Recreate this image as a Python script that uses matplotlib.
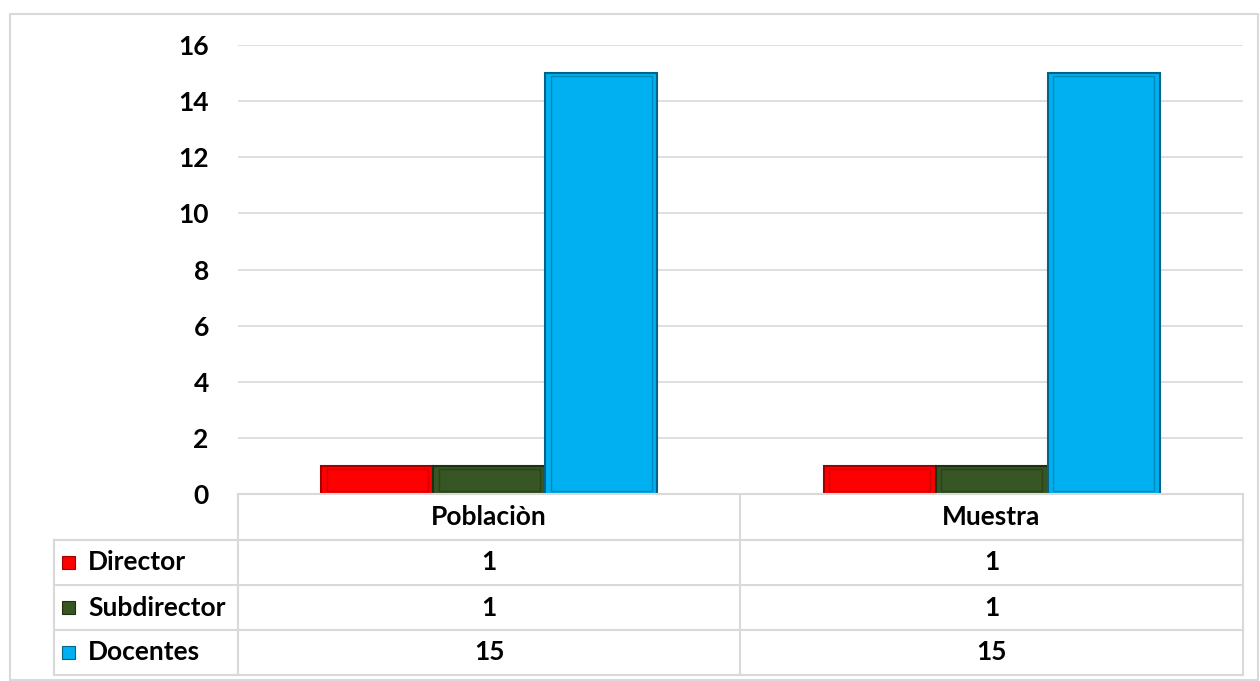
import numpy as np
import matplotlib.pyplot as plt
from matplotlib.patches import Rectangle
from matplotlib.lines import Line2D

plt.rcParams['font.family'] = ['Lato', 'DejaVu Sans']
plt.rcParams['font.weight'] = 'bold'

categories = ['Poblaciòn', 'Muestra']
series = ['Director', 'Subdirector', 'Docentes']
values = {
    'Director': [1, 1],
    'Subdirector': [1, 1],
    'Docentes': [15, 15],
}
yticks = [0, 2, 4, 6, 8, 10, 12, 14, 16]

face = {'Director': '#FF0000', 'Subdirector': '#375623', 'Docentes': '#00B0F0'}
edge = {'Director': '#A00000', 'Subdirector': '#1E3012', 'Docentes': '#00648A'}

W, H = 1260, 681
fig = plt.figure(figsize=(W / 100, H / 100), dpi=100)
grid_c = '#D9D9D9'


def fx(px):
    return px / W


def fy(py):
    return 1 - py / H


# outer frame
fig.patches.append(Rectangle((fx(10), fy(680)), fx(1258) - fx(10), fy(14) - fy(680),
                             transform=fig.transFigure, fill=False, ec=grid_c, lw=1.5))

left, right, top, bottom = 238, 1243, 45, 494
ax = fig.add_axes([fx(left), fy(bottom), fx(right) - fx(left), fy(top) - fy(bottom)])
ax.set_xlim(-0.5, 1.5)
ax.set_ylim(0, 16)
ax.set_yticks(yticks)
ax.set_xticks([])
ax.yaxis.grid(True, color=grid_c, lw=1.2)
ax.set_axisbelow(True)
for s in ax.spines.values():
    s.set_visible(False)
fs = 19
ax.tick_params(axis='y', length=0, pad=21, labelsize=fs)

x = np.arange(len(categories))
bw = 0.223
for i, name in enumerate(series):
    pos = x + (i - 1) * bw
    ax.bar(pos, values[name], width=bw, color=face[name], edgecolor=edge[name], lw=1.5, zorder=3)
    # inner bevel outline
    ax.bar(pos, np.array(values[name]) - 0.2, bottom=0.1, width=bw - 0.022,
           fill=False, edgecolor=edge[name], lw=1.0, alpha=0.5, zorder=4)

# data table
rows_y = [494, 540, 585, 630, 675]
col_x = [54, 238, 740, 1243]


def hline(x0, x1, y):
    fig.add_artist(Line2D([fx(x0), fx(x1)], [fy(y), fy(y)], transform=fig.transFigure, color=grid_c, lw=1.5))


def vline(xp, y0, y1):
    fig.add_artist(Line2D([fx(xp), fx(xp)], [fy(y0), fy(y1)], transform=fig.transFigure, color=grid_c, lw=1.5))


hline(col_x[1], col_x[3], rows_y[0])
for y in rows_y[1:]:
    hline(col_x[0], col_x[3], y)
vline(col_x[0], rows_y[1], rows_y[-1])
for xp in col_x[1:]:
    vline(xp, rows_y[0], rows_y[-1])

centers = [(col_x[1] + col_x[2]) / 2, (col_x[2] + col_x[3]) / 2]
for c, cat in zip(centers, categories):
    fig.text(fx(c), fy((rows_y[0] + rows_y[1]) / 2), cat, ha='center', va='center', fontsize=fs, weight='bold')

for r, name in enumerate(series):
    yc = (rows_y[r + 1] + rows_y[r + 2]) / 2
    fig.patches.append(Rectangle((fx(62), fy(yc + 6)), fx(13), fy(0) - fy(13), transform=fig.transFigure,
                                 fc=face[name], ec=edge[name], lw=0.8))
    fig.text(fx(88), fy(yc), name, ha='left', va='center', fontsize=fs, weight='bold')
    for c, v in zip(centers, values[name]):
        fig.text(fx(c), fy(yc), str(v), ha='center', va='center', fontsize=fs, weight='bold')

fig.savefig('out.png', dpi=100)
